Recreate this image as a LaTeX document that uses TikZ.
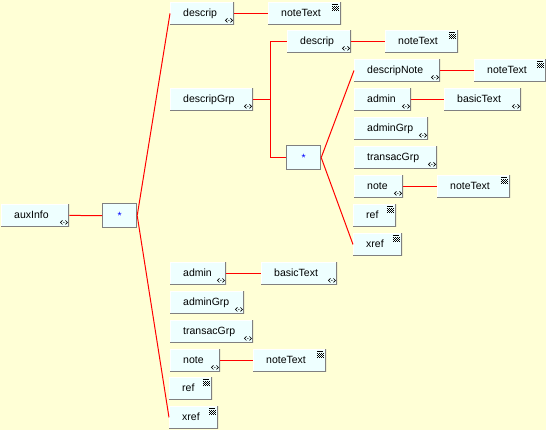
\documentclass[tikz,border=0pt]{standalone}
\usepackage{fontspec}
\setmainfont{Liberation Sans}

\definecolor{fond}{HTML}{FFFFD6}
\definecolor{boite}{HTML}{EEFFFF}
\definecolor{ombre}{HTML}{808080}

\tikzset{
  elem/.style={fill=boite, inner xsep=13pt, inner ysep=0pt, text width=#1, align=left,
    minimum height=22.5pt, text height=8pt, text depth=1pt, anchor=north west,
    font=\fontsize{10.5}{12}\selectfont,
    path picture={
      \draw[white,line width=2pt] (path picture bounding box.south west)
        -- (path picture bounding box.north west) -- (path picture bounding box.north east);
      \draw[ombre,line width=2pt] (path picture bounding box.north east)
        -- (path picture bounding box.south east) -- (path picture bounding box.south west);}},
  comp/.style={draw=ombre, line width=1.2pt, fill=boite, minimum width=34pt, minimum height=24pt,
    inner sep=0pt, anchor=north west, text=blue, font=\fontsize{10.5}{12}\selectfont},
  link/.style={red, line width=1pt},
  compicon/.pic={
    \draw[line width=0.7pt] (-7pt,6.5pt) -- (-9pt,4.5pt) -- (-7pt,2.5pt);
    \draw[line width=0.7pt] (-4pt,6.5pt) -- (-2pt,4.5pt) -- (-4pt,2.5pt);
    \fill (-5.5pt,4.5pt) circle (0.6pt);},
  texticon/.pic={
    \fill (-9pt,-2pt) rectangle (-3pt,-2.8pt);
    \foreach \yy in {2,...,6}
      \foreach \xx in {0,...,6}
        {\pgfmathparse{int(mod(\xx+\yy,2))}
         \ifnum\pgfmathresult=0 \fill ({(\xx-9)*1pt},{(-\yy-2)*1pt}) rectangle ++(0.8pt,-0.8pt);\fi}}
}

\begin{document}
\begin{tikzpicture}[x=1pt,y=-1pt]
\useasboundingbox (0,0) rectangle (546,430);
\fill[fond] (0,0) rectangle (546,430);

% les elements
\foreach \n/\x/\y/\w/\t in {
  auxInfo/1/204/68/auxInfo,
  descrip/170/2/64/descrip,
  noteTextA/268/2/73/noteText,
  descripGrp/170/88/83/descripGrp,
  admin/170/262/56/admin,
  basicText/261/262/76/basicText,
  adminGrp/170/291/74/adminGrp,
  transacGrp/170/320/83/transacGrp,
  note/170/349/50/note,
  noteTextE/253/349/73/noteText,
  ref/169/377/43/ref,
  xref/169/406/49/xref,
  descripB/287/30/64/descrip,
  noteTextB/385/30/73/noteText,
  descripNote/354/59/86/descripNote,
  noteTextC/474/59/72/noteText,
  adminB/354/88/57/admin,
  basicTextB/444/88/77/basicText,
  adminGrpB/354/117/74/adminGrp,
  transacGrpB/354/146/83/transacGrp,
  noteB/354/175/49/note,
  noteTextD/437/175/73/noteText,
  refB/353/204/43/ref,
  xrefB/353/233/49/xref}
  {\pgfmathsetmacro\tw{\w-26}
   \node[elem=\tw pt] (\n) at (\x,\y) {\t};}

% les compositeurs
\node[comp] (compA) at (102,203) {*};
\node[comp] (compB) at (286,145) {*};

% les petites icones
\foreach \n in {auxInfo,descrip,descripGrp,admin,basicText,adminGrp,transacGrp,note,
                descripB,descripNote,adminB,basicTextB,adminGrpB,transacGrpB,noteB}
    \pic at (\n.south east) {compicon};
\foreach \n in {noteTextA,noteTextB,noteTextC,noteTextD,noteTextE,ref,xref,refB,xrefB}
    \pic at (\n.north east) {texticon};

% les liaisons
\draw[link] (auxInfo.east) -- (compA.west);
\draw[link] (compA.east) -- (descrip.west);
\draw[link] (compA.east) -- (xref.west);
\draw[link] (compB.east) -- (descripNote.west);
\draw[link] (compB.east) -- (xrefB.west);
\foreach \a/\b in {descrip/noteTextA,admin/basicText,note/noteTextE,descripB/noteTextB,
                   descripNote/noteTextC,adminB/basicTextB,noteB/noteTextD}
    \draw[link] (\a.east) -- (\b.west);

% la fourche du groupe
\coordinate (fourche) at ([xshift=17pt]descripGrp.east);
\draw[link] (descripGrp.east) -- (fourche);
\draw[link] (fourche) |- (descripB.west);
\draw[link] (fourche) |- (compB.west);
\end{tikzpicture}
\end{document}
